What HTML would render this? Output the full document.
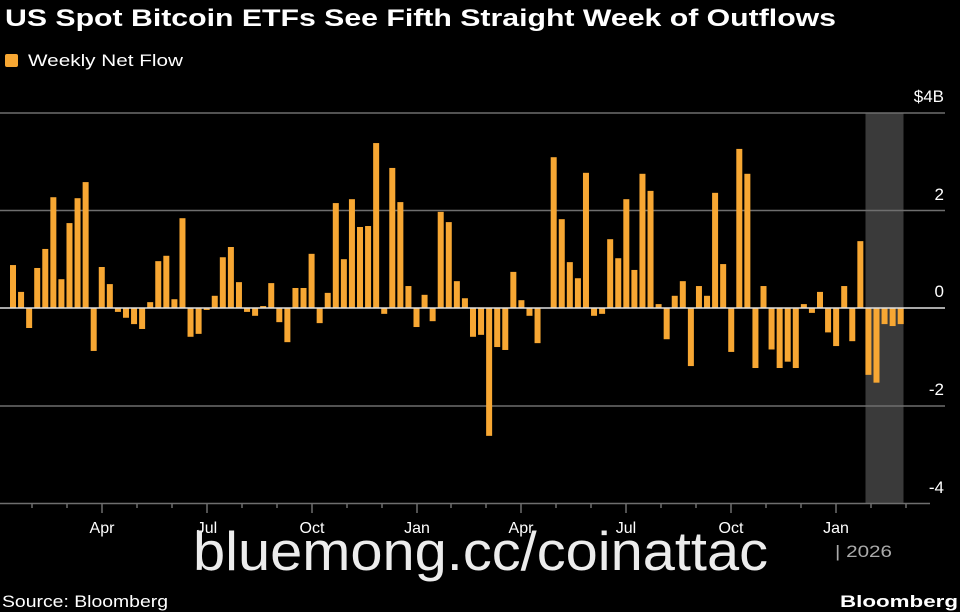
<!DOCTYPE html>
<html><head><meta charset="utf-8"><style>
html,body{margin:0;padding:0;background:#000;}
svg{display:block;font-family:"Liberation Sans","DejaVu Sans",sans-serif;}
</style></head><body>
<svg width="960" height="612" viewBox="0 0 960 612" xmlns="http://www.w3.org/2000/svg">
<rect width="960" height="612" fill="#000"/>
<text x="5" y="26" fill="#fff" font-size="24" font-weight="bold" textLength="831" lengthAdjust="spacingAndGlyphs">US Spot Bitcoin ETFs See Fifth Straight Week of Outflows</text>
<rect x="5" y="54" width="13" height="13" rx="2" fill="#f7a733"/>
<text x="28" y="66" fill="#fff" font-size="17" textLength="155" lengthAdjust="spacingAndGlyphs">Weekly Net Flow</text>
<rect x="865.5" y="113" width="38" height="390" fill="#3a3a3a"/>
<g stroke="#6e6e6e" stroke-width="1.5">
<line x1="0" y1="113" x2="945" y2="113"/>
<line x1="0" y1="210.5" x2="945" y2="210.5"/>
<line x1="0" y1="406" x2="945" y2="406"/>
</g>
<g fill="#fff" font-size="17" text-anchor="end">
<text x="944" y="102">$4B</text>
<text x="944" y="200">2</text>
<text x="944" y="297">0</text>
<text x="944" y="395">-2</text>
<text x="944" y="493">-4</text>
</g>
<g id="bars" fill="#f7a733"></g>
<line x1="0" y1="308" x2="945" y2="308" stroke="#e0e0e0" stroke-width="1.5"/>
<line x1="0" y1="503.5" x2="930" y2="503.5" stroke="#6e6e6e" stroke-width="1.5"/>
<g id="ticks" stroke="#6e6e6e" stroke-width="1.5"></g>
<g fill="#fff" font-size="16" text-anchor="middle">
<text x="102" y="533">Apr</text><text x="207" y="533">Jul</text><text x="312" y="533">Oct</text><text x="417" y="533">Jan</text>
<text x="521" y="533">Apr</text><text x="626" y="533">Jul</text><text x="731" y="533">Oct</text><text x="836" y="533">Jan</text>
</g>
<text x="835" y="557" fill="#aaa" font-size="17" textLength="57" lengthAdjust="spacingAndGlyphs">| 2026</text>
<text x="193" y="570" fill="#ececec" font-size="55" textLength="575" lengthAdjust="spacingAndGlyphs">bluemong.cc/coinattac</text>
<text x="2" y="607" fill="#fff" font-size="17" textLength="166" lengthAdjust="spacingAndGlyphs">Source: Bloomberg</text>
<text x="840" y="607" fill="#fff" font-size="17" font-weight="bold" textLength="118" lengthAdjust="spacingAndGlyphs">Bloomberg</text>
</svg>
<script>
var v=[0.88,0.33,-0.41,0.82,1.21,2.27,0.59,1.74,2.25,2.58,-0.88,0.84,0.49,-0.08,-0.2,-0.33,-0.43,0.12,0.96,1.07,0.18,1.84,-0.59,-0.53,-0.04,0.25,1.04,1.25,0.53,-0.08,-0.16,0.04,0.51,-0.29,-0.7,0.41,0.41,1.11,-0.31,
0.31,2.15,1.0,2.23,1.66,1.68,3.38,-0.12,2.87,2.17,0.45,-0.39,0.27,-0.27,1.97,1.76,0.55,0.2,-0.59,-0.55,-2.62,-0.8,-0.86,0.74,0.16,-0.16,-0.72,0,3.09,1.82,0.94,0.61,2.77,-0.16,-0.12,1.41,1.02,2.23,
0.78,2.75,2.4,0.08,-0.64,0.25,0.55,-1.19,0.45,0.25,2.36,0.9,-0.9,3.26,2.75,-1.23,0.45,-0.85,-1.23,-1.1,-1.23,0.08,-0.1,0.33,-0.5,-0.78,0.45,-0.68,1.37,-1.37,-1.53,-0.33,-0.37,-0.33];
var g=document.getElementById('bars'),s='';
for(var i=0;i<v.length;i++){var x=10+8.07*i,h=Math.abs(v[i])*48.8,y=v[i]>=0?308-h:308;
if(h>0)s+='<rect x="'+x.toFixed(2)+'" y="'+y.toFixed(2)+'" width="6" height="'+h.toFixed(2)+'"/>';}
g.innerHTML=s;
var t='',maj=[102,207,312,417,521,626,731,836];
for(var k=0;k<maj.length;k++){t+='<line x1="'+maj[k]+'" y1="503" x2="'+maj[k]+'" y2="513"/>';
for(var m=1;m<3;m++){var xm=maj[k]-m*35;if(xm>5)t+='<line x1="'+xm+'" y1="503" x2="'+xm+'" y2="508"/>';}}
t+='<line x1="871" y1="503" x2="871" y2="508"/><line x1="906" y1="503" x2="906" y2="508"/>';
document.getElementById('ticks').innerHTML=t;
</script>
</body></html>
